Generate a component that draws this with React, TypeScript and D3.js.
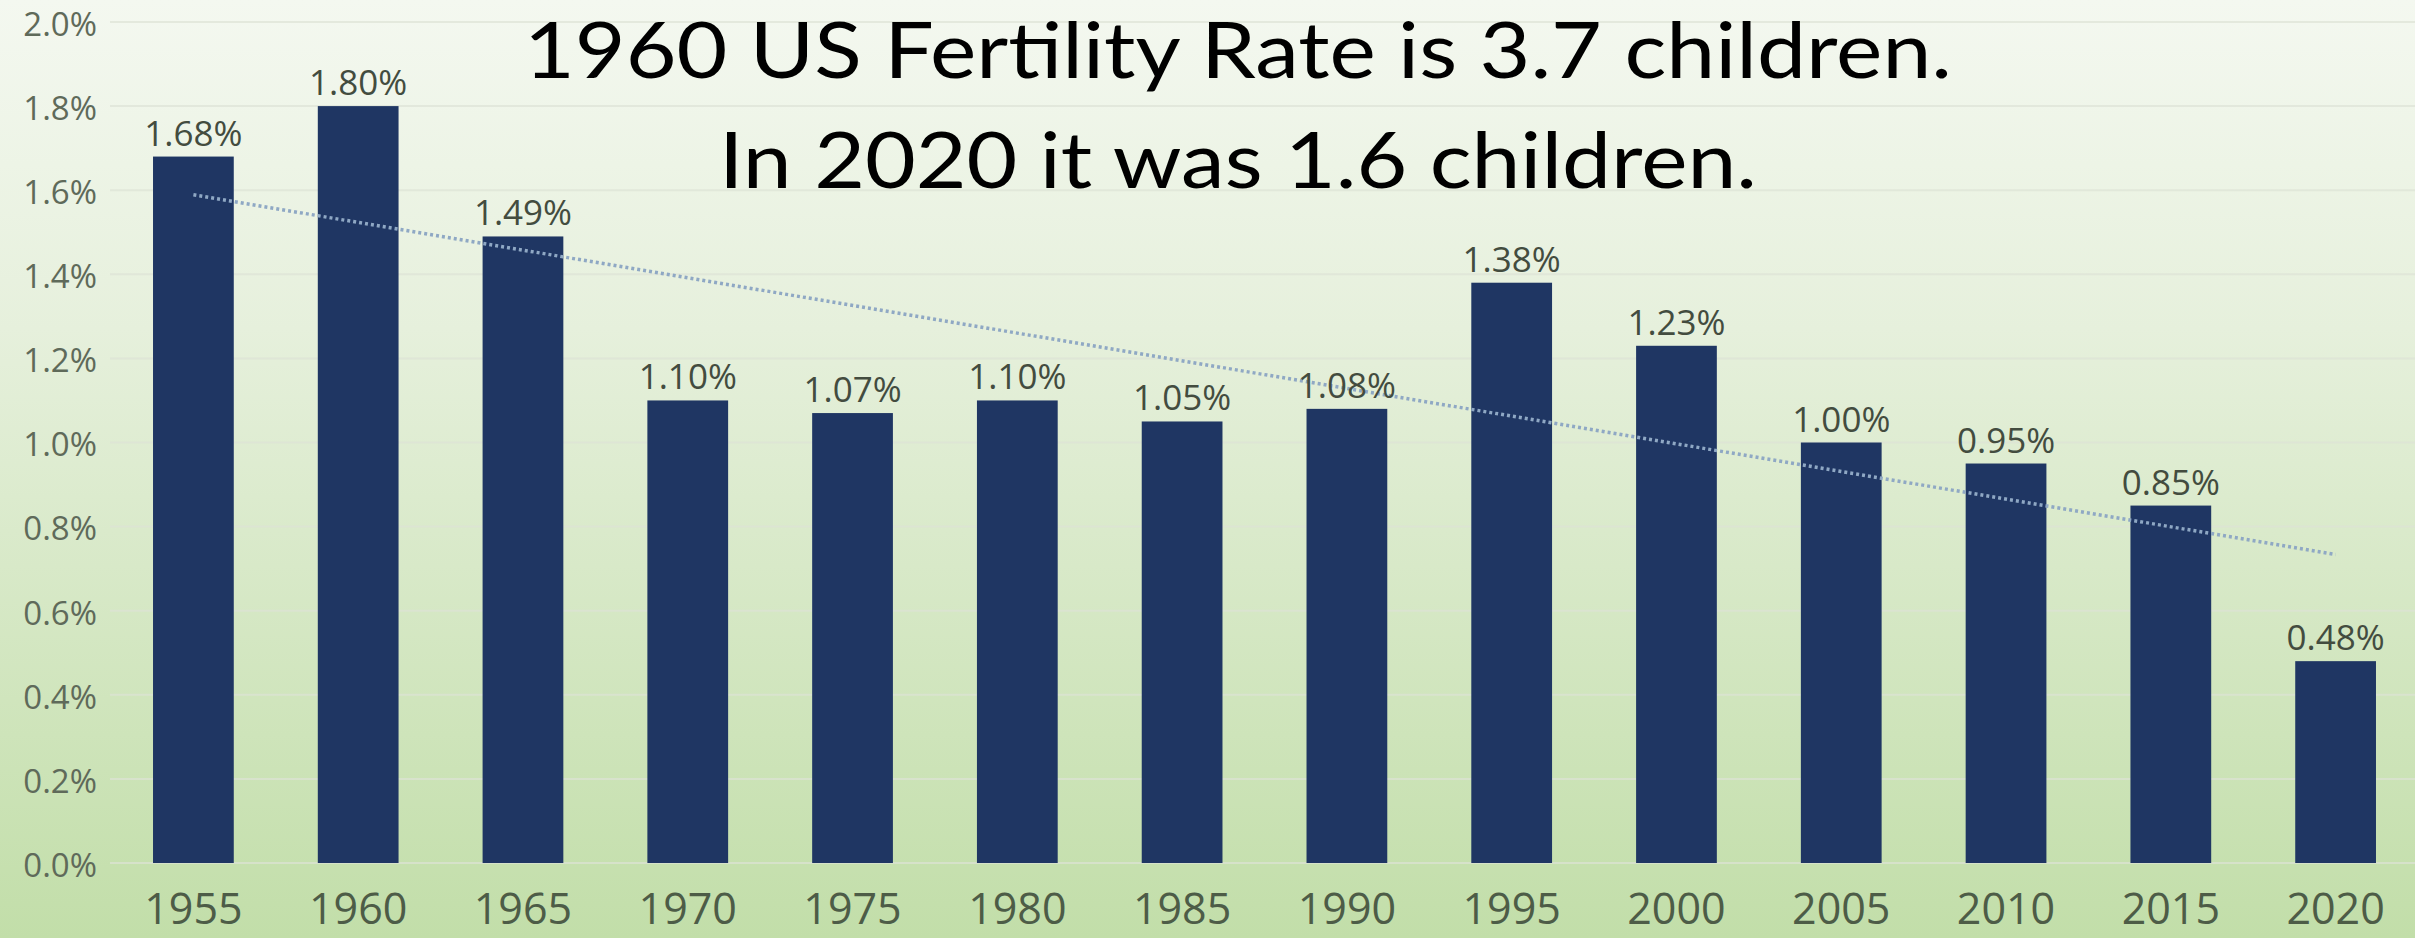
import React, { useEffect, useRef } from 'react';
import * as d3 from 'd3';

// chart data
const years = ['1955', '1960', '1965', '1970', '1975', '1980', '1985', '1990', '1995', '2000', '2005', '2010', '2015', '2020'];
const rates = [0.0168, 0.018, 0.0149, 0.011, 0.0107, 0.011, 0.0105, 0.0108, 0.0138, 0.0123, 0.01, 0.0095, 0.0085, 0.0048];
const yTicks = [0, 0.002, 0.004, 0.006, 0.008, 0.01, 0.012, 0.014, 0.016, 0.018, 0.02];
const titleLines = ['1960 US Fertility Rate is 3.7 children.', 'In 2020 it was 1.6 children.'];

const W = 2415;
const H = 938;

function App() {
  const ref = useRef<SVGSVGElement>(null);

  useEffect(() => {
    if (!ref.current) return;
    const svg = d3.select(ref.current);
    svg.selectAll('*').remove();

    // background gradient
    const defs = svg.append('defs');
    const grad = defs.append('linearGradient')
      .attr('id', 'bg').attr('x1', 0).attr('y1', 0).attr('x2', 0).attr('y2', 1);
    grad.append('stop').attr('offset', '0%').attr('stop-color', '#f4f8f0');
    grad.append('stop').attr('offset', '35%').attr('stop-color', '#e6f0dc');
    grad.append('stop').attr('offset', '100%').attr('stop-color', '#c2dea9');
    svg.append('rect').attr('width', W).attr('height', H).attr('fill', 'url(#bg)');

    const x = d3.scaleBand<string>()
      .domain(years)
      .range([111, 2418])
      .paddingInner(0.51)
      .paddingOuter(0.255);

    const y = d3.scaleLinear()
      .domain([0, 0.02])
      .range([863, 22]);

    // gridlines
    svg.append('g')
      .selectAll('line')
      .data(yTicks)
      .join('line')
      .attr('x1', 110).attr('x2', W)
      .attr('y1', d => y(d)).attr('y2', d => y(d))
      .attr('stroke', '#dde3d6')
      .attr('stroke-opacity', 0.7)
      .attr('stroke-width', 2);

    // y axis labels
    const fmt = d3.format('.1%');
    svg.append('g')
      .selectAll('text')
      .data(yTicks)
      .join('text')
      .attr('x', 97)
      .attr('y', d => y(d))
      .attr('dy', '0.42em')
      .attr('text-anchor', 'end')
      .style('font-family', '"Open Sans", sans-serif')
      .style('font-size', '33px')
      .attr('fill', '#5f6a5a')
      .text(d => fmt(d));

    // bars
    svg.append('g')
      .attr('fill', '#1f3663')
      .selectAll('rect')
      .data(rates)
      .join('rect')
      .attr('x', (d, i) => x(years[i])!)
      .attr('y', d => y(d))
      .attr('width', x.bandwidth())
      .attr('height', d => y(0) - y(d));

    // linear trendline (least squares over the bars)
    const n = rates.length;
    const mx = d3.mean(d3.range(n))!;
    const my = d3.mean(rates)!;
    let sxy = 0, sxx = 0;
    rates.forEach((v, i) => { sxy += (i - mx) * (v - my); sxx += (i - mx) * (i - mx); });
    const slope = sxy / sxx;
    const icpt = my - slope * mx;
    const cx = (i: number) => x(years[i])! + x.bandwidth() / 2;
    svg.append('line')
      .attr('x1', cx(0)).attr('y1', y(icpt))
      .attr('x2', cx(n - 1)).attr('y2', y(icpt + slope * (n - 1)))
      .attr('stroke', '#8fa8c4')
      .attr('stroke-width', 3.5)
      .attr('stroke-dasharray', '3 3');

    // value labels
    const vfmt = d3.format('.2%');
    svg.append('g')
      .selectAll('text')
      .data(rates)
      .join('text')
      .attr('x', (d, i) => cx(i))
      .attr('y', d => y(d) - 11)
      .attr('text-anchor', 'middle')
      .style('font-family', '"Open Sans", sans-serif')
      .style('font-size', '35px')
      .attr('fill', '#434c3f')
      .text(d => vfmt(d));

    // x axis labels
    svg.append('g')
      .selectAll('text')
      .data(years)
      .join('text')
      .attr('x', (d, i) => cx(i))
      .attr('y', 924)
      .attr('text-anchor', 'middle')
      .style('font-family', '"Open Sans", sans-serif')
      .style('font-size', '43px')
      .attr('fill', '#4d5c47')
      .text(d => d);

    // title
    const tl = [
      { text: titleLines[0], y: 78, len: 1428 },
      { text: titleLines[1], y: 188, len: 1038 },
    ];
    svg.append('g')
      .selectAll('text')
      .data(tl)
      .join('text')
      .attr('x', 1238)
      .attr('y', d => d.y)
      .attr('text-anchor', 'middle')
      .attr('textLength', d => d.len)
      .attr('lengthAdjust', 'spacingAndGlyphs')
      .style('font-family', 'Lato, sans-serif')
      .style('font-size', '78px')
      .attr('fill', '#000')
      .text(d => d.text);
  });

  return (
    <div style={{ position: 'absolute', left: 0, top: 0 }}>
      <svg ref={ref} width={W} height={H} style={{ display: 'block' }}></svg>
    </div>
  );
}

export default App;
